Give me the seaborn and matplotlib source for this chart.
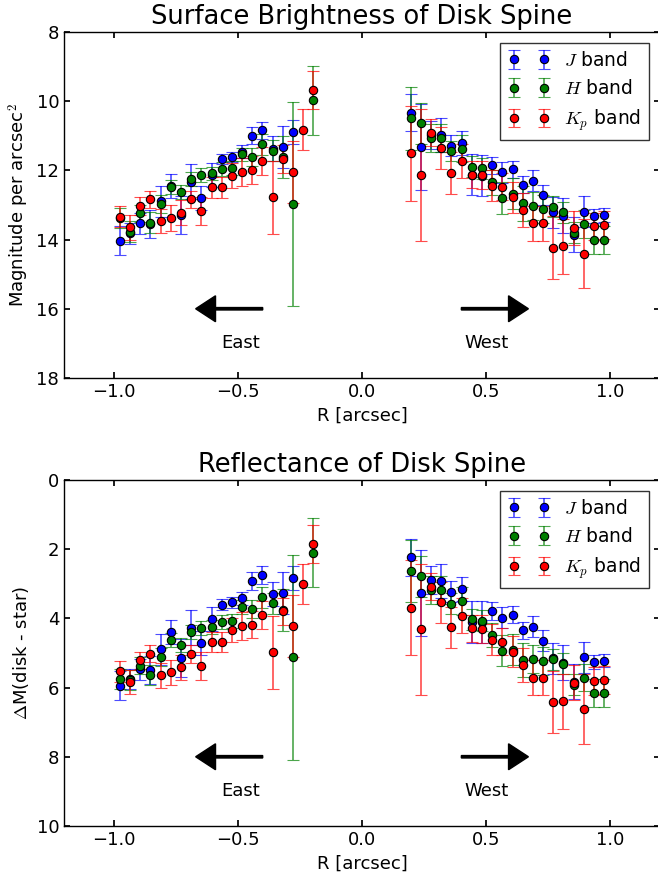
import matplotlib
matplotlib.use('Agg')
import matplotlib.pyplot as plt
import seaborn as sns
import numpy as np

nan = np.nan

# projected separation [arcsec], east side then west side
r_east = [-0.975, -0.934, -0.893, -0.852, -0.811, -0.770, -0.729, -0.688, -0.647, -0.606,
          -0.565, -0.524, -0.483, -0.442, -0.401, -0.360, -0.319, -0.278, -0.237, -0.196]
r_west = [0.196, 0.237, 0.278, 0.319, 0.360, 0.401, 0.442, 0.483, 0.524, 0.565,
          0.606, 0.647, 0.688, 0.729, 0.770, 0.811, 0.852, 0.893, 0.934, 0.975]

# surface brightness (mag / arcsec^2)
sb_j_east = [14.03, 13.82, 13.53, 13.55, 12.90, 12.45, 13.29, 12.33, 12.79, 12.13,
             11.67, 11.61, 11.46, 11.00, 10.84, 11.37, 11.32, 10.90, nan, nan]
sb_h_east = [13.38, 13.77, 13.24, 13.51, 12.97, 12.49, 12.63, 12.26, 12.13, 12.09,
             11.97, 11.94, 11.54, 11.61, 11.25, 11.43, 11.62, 12.98, nan, 9.97]
sb_k_east = [13.34, 13.65, 13.03, 12.84, 13.46, 13.37, 13.22, 12.84, 13.17, 12.49,
             12.49, 12.15, 12.04, 11.99, 11.72, 12.78, 11.68, 12.04, 10.82, 9.68]
sb_j_west = [10.33, 11.33, 10.98, 10.98, 11.29, 11.22, 12.12, 12.15, 11.85, 12.06,
             11.97, 12.41, 12.30, 12.71, 13.21, 13.31, 13.86, 13.19, 13.32, 13.29]
sb_h_west = [10.50, 10.64, 11.06, 11.06, 11.44, 11.37, 11.89, 11.94, 12.35, 12.80,
             12.68, 12.95, 13.04, 13.11, 13.05, 13.21, 13.80, 13.56, 14.01, 14.01]
sb_k_west = [11.51, 12.13, 10.91, 11.35, 12.07, 11.73, 12.12, 12.13, 12.44, 12.47,
             12.78, 13.15, 13.53, 13.53, 14.23, 14.20, 13.67, 14.41, 13.62, 13.58]

# reflectance, delta mag (disk - star)
dm_j_east = [5.95, 5.75, 5.47, 5.49, 4.89, 4.40, 5.14, 4.27, 4.71, 4.02,
             3.60, 3.54, 3.42, 2.92, 2.75, 3.29, 3.26, 2.83, nan, nan]
dm_h_east = [5.75, 5.78, 5.37, 5.64, 5.12, 4.62, 4.76, 4.40, 4.28, 4.24,
             4.10, 4.07, 3.68, 3.73, 3.39, 3.56, 3.76, 5.13, nan, 2.10]
dm_k_east = [5.53, 5.83, 5.21, 5.02, 5.65, 5.56, 5.42, 5.03, 5.37, 4.68,
             4.68, 4.33, 4.23, 4.18, 3.91, 4.98, 3.80, 4.22, 3.01, 1.85]
dm_j_west = [2.24, 3.26, 2.89, 2.92, 3.23, 3.16, 4.10, 4.10, 3.79, 3.98,
             3.89, 4.35, 4.24, 4.64, 5.15, 5.28, 5.83, 5.13, 5.25, 5.22]
dm_h_west = [2.63, 2.79, 3.18, 3.18, 3.58, 3.49, 4.03, 4.07, 4.48, 4.93,
             4.91, 5.20, 5.18, 5.24, 5.18, 5.31, 5.92, 5.71, 6.15, 6.15]
dm_k_west = [3.69, 4.32, 3.08, 3.54, 4.26, 3.92, 4.29, 4.31, 4.62, 4.67,
             4.96, 5.35, 5.71, 5.71, 6.42, 6.40, 5.86, 6.62, 5.81, 5.78]

# 1-sigma errors (same for both quantities)
err_j_east = [0.42, 0.30, 0.30, 0.40, 0.45, 0.35, 0.55, 0.50, 0.35, 0.35,
              0.15, 0.15, 0.18, 0.25, 0.25, 0.35, 0.60, 0.35, nan, nan]
err_h_east = [0.30, 0.30, 0.25, 0.30, 0.25, 0.20, 0.20, 0.20, 0.20, 0.20,
              0.20, 0.20, 0.20, 0.25, 0.30, 0.30, 0.60, 2.95, nan, 1.00]
err_k_east = [0.30, 0.35, 0.25, 0.25, 0.35, 0.37, 0.37, 0.25, 0.40, 0.30,
              0.30, 0.35, 0.40, 0.40, 0.40, 1.05, 0.40, 0.90, 0.58, 0.55]
err_j_west = [0.53, 1.24, 0.40, 0.50, 0.30, 0.35, 0.60, 0.60, 0.25, 0.30,
              0.25, 0.25, 0.30, 0.30, 0.45, 0.50, 0.50, 0.45, 0.20, 0.20]
err_h_west = [0.90, 0.60, 0.40, 0.40, 0.30, 0.40, 0.30, 0.30, 0.35, 0.45,
              0.45, 0.50, 0.40, 0.40, 0.30, 0.30, 0.30, 0.40, 0.40, 0.40]
err_k_west = [1.38, 1.90, 0.40, 0.60, 0.60, 0.50, 0.40, 0.40, 0.45, 0.40,
              0.45, 0.50, 0.50, 0.50, 0.90, 0.80, 0.50, 1.00, 0.40, 0.40]

band_labels = ['$J$ band', '$H$ band', '$K_p$ band']
band_colors = ['#0000ff', '#008000', '#ff0000']

sns.set_theme(style="ticks", rc={
    "xtick.direction": "in", "ytick.direction": "in",
    "xtick.major.size": 4, "ytick.major.size": 4,
    "axes.edgecolor": "black", "axes.linewidth": 1.0,
    "text.color": "black", "axes.labelcolor": "black",
    "xtick.color": "black", "ytick.color": "black",
    "mathtext.fontset": "cm",
})
plt.rcParams['font.family'] = ['DejaVu Sans']

fig = plt.figure(figsize=(6.58, 8.8), dpi=100)
ax1 = fig.add_axes([0.0973, 0.5705, 0.9058, 0.3932])
ax2 = fig.add_axes([0.0973, 0.0614, 0.9058, 0.3932])

r_all = np.array(r_east + r_west)


def draw_panel(ax, values, errors, title, ylabel, ylim, yticks, arrow_y, text_y):
    for vals, errs, lab, col in zip(values, errors, band_labels, band_colors):
        eb = ax.errorbar(r_all, vals, yerr=errs, fmt='o', color=col, ecolor=col,
                         mec='#000000', mew=0.8, ms=6, elinewidth=1.2, capsize=4,
                         capthick=1.2, label=lab)
        for ln in eb[1]:
            ln.set_alpha(0.7)
        for lc in eb[2]:
            lc.set_alpha(0.7)
    ax.set_xlim(-1.2, 1.2)
    ax.set_ylim(*ylim)
    ax.set_yticks(yticks)
    ax.set_xticks([-1.0, -0.5, 0.0, 0.5, 1.0])
    ax.tick_params(top=True, right=True, labelsize=13)
    ax.set_title(title, fontsize=18.5)
    ax.set_xlabel('R [arcsec]', fontsize=13)
    ax.set_ylabel(ylabel, fontsize=13)
    ax.arrow(-0.40, arrow_y, -0.27, 0, width=0.07, head_width=0.75,
             head_length=0.08, length_includes_head=True, fc='#000000', ec='#000000')
    ax.arrow(0.40, arrow_y, 0.27, 0, width=0.07, head_width=0.75,
             head_length=0.08, length_includes_head=True, fc='#000000', ec='#000000')
    ax.text(-0.49, text_y, 'East', ha='center', va='center', fontsize=13)
    ax.text(0.50, text_y, 'West', ha='center', va='center', fontsize=13)
    leg = ax.legend(loc='upper right', numpoints=2, fontsize=13.5, frameon=True,
                    fancybox=False, handlelength=2.2, borderaxespad=0.6)
    leg.get_frame().set_edgecolor('#000000')
    leg.get_frame().set_linewidth(1.0)


draw_panel(ax1,
           [sb_j_east + sb_j_west, sb_h_east + sb_h_west, sb_k_east + sb_k_west],
           [err_j_east + err_j_west, err_h_east + err_h_west, err_k_east + err_k_west],
           'Surface Brightness of Disk Spine', 'Magnitude per arcsec$^2$',
           (18, 8), [8, 10, 12, 14, 16, 18], 16, 17)
draw_panel(ax2,
           [dm_j_east + dm_j_west, dm_h_east + dm_h_west, dm_k_east + dm_k_west],
           [err_j_east + err_j_west, err_h_east + err_h_west, err_k_east + err_k_west],
           'Reflectance of Disk Spine', r'$\Delta$M(disk - star)',
           (10, 0), [0, 2, 4, 6, 8, 10], 8, 9)

fig.savefig('out.png', dpi=100)
